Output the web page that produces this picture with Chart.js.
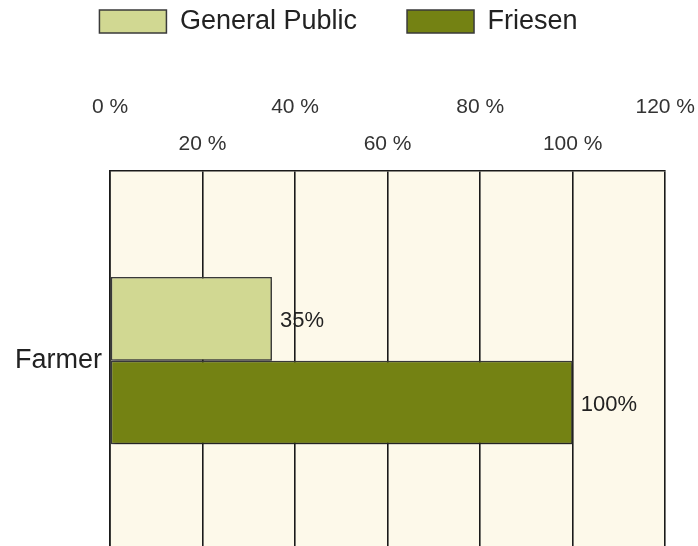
<!DOCTYPE html>
<html>
<head>
<meta charset="utf-8">
<script src="https://cdn.jsdelivr.net/npm/chart.js@4/dist/chart.umd.min.js"></script>
<style>
  body { margin: 0; overflow: hidden; background: #fff; }
</style>
</head>
<body>
<canvas id="chart" width="698" height="567"></canvas>
<script>
const categories = ["Farmer"];
const seriesNames = ["General Public", "Friesen"];
const generalPublic = [35];
const friesen = [100];

const fontFamily = "'Liberation Sans', Arial, sans-serif";

// cream plot background
const plotBg = {
  id: "plotBg",
  beforeDraw(chart) {
    const { ctx, chartArea: a } = chart;
    ctx.save();
    ctx.fillStyle = "#fdf9ea";
    ctx.fillRect(a.left, a.top, a.right - a.left, a.bottom - a.top);
    ctx.restore();
  }
};

// legend sits a bit higher and left of where chart.js centres it
const legendNudge = {
  id: "legendNudge",
  afterLayout(chart) {
    const l = chart.legend;
    l.left -= 18;
    l.right -= 18;
    l.top -= 36;
    l.bottom -= 36;
  }
};

// soft shadow under bars
const barShadow = {
  id: "barShadow",
  beforeDatasetsDraw(chart) {
    const ctx = chart.ctx;
    ctx.save();
    ctx.shadowColor = "rgba(0,0,0,0.45)";
    ctx.shadowOffsetX = 2;
    ctx.shadowOffsetY = 2;
    ctx.shadowBlur = 3;
  },
  afterDatasetsDraw(chart) {
    chart.ctx.restore();
  }
};

// value labels right of each bar
const valueLabels = {
  id: "valueLabels",
  afterDatasetsDraw(chart) {
    const ctx = chart.ctx;
    ctx.save();
    ctx.font = "22px " + fontFamily;
    ctx.fillStyle = "#222";
    ctx.textBaseline = "middle";
    ctx.textAlign = "left";
    chart.data.datasets.forEach((ds, i) => {
      chart.getDatasetMeta(i).data.forEach((bar, j) => {
        ctx.fillText(ds.data[j] + "%", bar.x + 8, bar.y + 2);
      });
    });
    ctx.restore();
  }
};

new Chart(document.getElementById("chart"), {
  type: "bar",
  data: {
    labels: categories,
    datasets: [
      {
        label: seriesNames[0],
        data: generalPublic,
        backgroundColor: "#d1d892",
        borderColor: "#3a3a3a",
        borderWidth: 1.5,
        borderSkipped: false
      },
      {
        label: seriesNames[1],
        data: friesen,
        backgroundColor: "#748213",
        borderColor: "#3a3a3a",
        borderWidth: 1.5,
        borderSkipped: false
      }
    ]
  },
  options: {
    indexAxis: "y",
    responsive: false,
    animation: false,
    layout: { padding: { left: 15, right: 0, top: -6, bottom: 0 } },
    datasets: { bar: { categoryPercentage: 0.44, barPercentage: 1 } },
    plugins: {
      tooltip: { enabled: false },
      legend: {
        position: "top",
        labels: {
          boxWidth: 67,
          boxHeight: 23,
          padding: 50,
          color: "#222",
          font: { family: fontFamily, size: 27 }
        }
      }
    },
    scales: {
      x: {
        position: "top",
        min: 0,
        max: 120,
        afterFit: (scale) => {
          // let the last tick label hang a little past the plot edge
          scale.paddingRight = Math.max(0, scale.paddingRight - 5);
        },
        ticks: {
          stepSize: 20,
          color: "#333",
          padding: 8,
          font: { family: fontFamily, size: 21, lineHeight: 1.75 },
          callback: (value, index) => {
            const label = value + " %";
            return index % 2 === 0 ? [label, ""] : ["", label];
          }
        },
        grid: { color: "#1a1a1a", lineWidth: 1.6, drawTicks: false },
        border: { color: "#1a1a1a", width: 1.6 }
      },
      y: {
        ticks: {
          color: "#222",
          padding: 0,
          font: { family: fontFamily, size: 27 }
        },
        grid: { display: false },
        border: { color: "#1a1a1a", width: 1.6 }
      }
    }
  },
  plugins: [plotBg, legendNudge, barShadow, valueLabels]
});
</script>
</body>
</html>
